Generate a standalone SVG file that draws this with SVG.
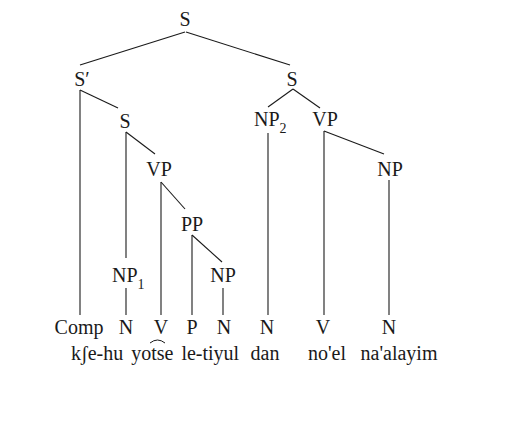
<svg xmlns="http://www.w3.org/2000/svg" width="523" height="428" viewBox="0 0 523 428">
<style>
text{font-family:"Liberation Serif","Times New Roman","DejaVu Serif",serif;font-size:20px;fill:#1a1a1a}
.c{text-anchor:middle}
.sub{font-size:14px}
#edges line{stroke:#1a1a1a;stroke-width:1.1}
</style>
<rect width="523" height="428" fill="#fff"/>
<g id="edges">
<line x1="185" y1="32" x2="80" y2="65"/>
<line x1="186" y1="32" x2="290" y2="65"/>
<line x1="80" y1="90" x2="80" y2="315"/>
<line x1="80" y1="90" x2="118" y2="108"/>
<line x1="126" y1="132" x2="126" y2="258"/>
<line x1="126" y1="132" x2="155" y2="154"/>
<line x1="161" y1="182" x2="161" y2="315"/>
<line x1="161" y1="182" x2="185" y2="209"/>
<line x1="192" y1="235" x2="192" y2="315"/>
<line x1="192" y1="235" x2="222" y2="262"/>
<line x1="126" y1="288" x2="126" y2="315"/>
<line x1="223" y1="288" x2="223" y2="315"/>
<line x1="293" y1="89" x2="268" y2="107"/>
<line x1="293" y1="89" x2="320" y2="108"/>
<line x1="268" y1="133" x2="268" y2="315"/>
<line x1="324" y1="131" x2="324" y2="315"/>
<line x1="324" y1="131" x2="384" y2="154"/>
<line x1="389" y1="180" x2="389" y2="315"/>
</g>
<g id="n-S"><text class="c" x="185" y="26">S</text></g>
<g id="n-Sbar"><text class="c" x="82" y="86">S′</text></g>
<g id="n-S2"><text class="c" x="292" y="86">S</text></g>
<g id="n-S1"><text class="c" x="125" y="128">S</text></g>
<g id="n-NP2"><text x="254" y="126">NP<tspan class="sub" dy="7">2</tspan></text></g>
<g id="n-VP2"><text class="c" x="325" y="126">VP</text></g>
<g id="n-VP1"><text class="c" x="159" y="176">VP</text></g>
<g id="n-NP3"><text class="c" x="390" y="176">NP</text></g>
<g id="n-PP"><text class="c" x="192" y="231">PP</text></g>
<g id="n-NP1"><text x="112" y="282">NP<tspan class="sub" dy="7">1</tspan></text></g>
<g id="n-NP4"><text class="c" x="223" y="282">NP</text></g>
<g id="n-Comp"><text class="c" x="79" y="334">Comp</text></g>
<g id="n-N1"><text class="c" x="126" y="334">N</text></g>
<g id="n-V1"><text class="c" x="161" y="334">V</text></g>
<g id="n-P"><text class="c" x="192" y="334">P</text></g>
<g id="n-N2"><text class="c" x="224" y="334">N</text></g>
<g id="n-N3"><text class="c" x="267" y="334">N</text></g>
<g id="n-V2"><text class="c" x="323" y="334">V</text></g>
<g id="n-N4"><text class="c" x="389" y="334">N</text></g>
<g id="words">
<text x="71" y="360" word-spacing="3">kʃe-hu yotse le-tiyul</text>
<text class="c" x="265" y="360">dan</text>
<text class="c" x="327" y="360">no'el</text>
<text class="c" x="399" y="360">na'alayim</text>
<path d="M150 343 Q157.5 337 165 343" fill="none" stroke="#1a1a1a" stroke-width="1"/>
</g>
</svg>
